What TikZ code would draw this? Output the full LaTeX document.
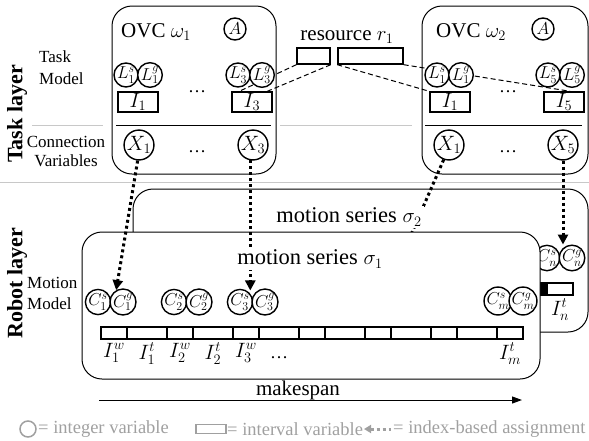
\documentclass[tikz,border=0pt]{standalone}
\usepackage{fontspec}
\setmainfont{Liberation Serif}
\usetikzlibrary{arrows.meta,backgrounds}
\newcommand{\fsz}[1]{\fontsize{#1}{#1}\selectfont}
\definecolor{lgray}{RGB}{200,200,200}
\definecolor{leggray}{RGB}{160,160,160}
\tikzset{
  ivar/.style={circle,draw,line width=1.4pt,fill=white,minimum size=24pt,inner sep=0pt,font=\fsz{18}},
  cvar/.style={ivar,minimum size=24.5pt},
  xvar/.style={ivar,minimum size=26pt,font=\fsz{20}},
  avar/.style={ivar,minimum size=22pt,font=\fsz{18}},
  ivl/.style={draw,line width=1.4pt,fill=white,minimum width=40pt,minimum height=20pt,inner sep=0pt,font=\fsz{21}},
  res/.style={draw,line width=1.4pt,minimum height=16pt,inner sep=0pt},
  seg/.style={draw,line width=2pt,fill=white,minimum height=11.5pt,inner sep=0pt},
  ovc/.style={draw,line width=1pt,rounded corners=20pt},
  series/.style={draw,line width=1pt,rounded corners=20pt,fill=white},
  assign/.style={line width=3pt,dash pattern=on 3pt off 3pt,-{Triangle[width=10pt,length=10pt]}},
  assignnt/.style={line width=3pt,dash pattern=on 3pt off 3pt},
  zoomline/.style={line width=1pt,dash pattern=on 5pt off 3pt},
  sepline/.style={lgray,line width=1pt},
  head/.style={font=\fsz{21},inner sep=0pt},
  serieslab/.style={font=\fsz{22.5},fill=white,inner sep=2pt},
  layer/.style={font=\fsz{22}\bfseries,rotate=90,inner sep=0pt},
  lab/.style={font=\fsz{21},inner sep=0pt},
  dotsn/.style={font=\fsz{18},inner sep=0pt,anchor=base},
  leg/.style={font=\fsz{18.5},text=leggray,inner sep=0pt,anchor=west},
}
\begin{document}
\begin{tikzpicture}[x=1pt,y=-1pt]
\useasboundingbox (0,0) rectangle (589,440);
% separators
\draw[sepline] (0,182) -- (589,182);
\draw[sepline] (32,125) -- (103,125);
\draw[sepline] (280,125) -- (412,125);
% layer labels
\node[layer] (tl) at (17,114) {Task layer};
\node[layer] (rl) at (17,283) {Robot layer};
\node[font=\fontsize{17}{22}\selectfont,align=left,inner sep=0pt,anchor=west] (tm) at (39,68) {Task\\Model};
\node[font=\fontsize{17}{19}\selectfont,align=center,inner sep=0pt] (cv) at (66,151) {Connection\\Variables};
\node[font=\fontsize{17}{21}\selectfont,align=left,inner sep=0pt,anchor=west] (mm) at (27,293) {Motion\\Model};
% OVC 1
\draw[ovc] (112,6) rectangle (276,174);
\node[head,anchor=base west] (ovc1) at (121,37) {OVC $\omega_1$};
\node[avar] (a1) at (235,29) {$A$};
\node[ivar] (l1s) at (126,75) {$L^s_1$};
\node[ivar] (l1g) at (150,75) {$L^g_1$};
\node[ivar] (l3s) at (238,75) {$L^s_3$};
\node[ivar] (l3g) at (262,75) {$L^g_3$};
\node[ivl] (i1a) at (138,102) {$I_1$};
\node[ivl] (i3a) at (252,102) {$I_3$};
\node[dotsn] (d1a) at (197,92) {\dots};
\draw[line width=1pt] (116,125) -- (271,125);
\node[xvar] (x1a) at (139,145) {$X_1$};
\node[xvar] (x3a) at (253,145) {$X_3$};
\node[dotsn] (d2a) at (197,152) {\dots};
% OVC 2
\draw[ovc] (422,6) rectangle (588,174);
\node[head,anchor=base west] (ovc2) at (436,37) {OVC $\omega_2$};
\node[avar] (a2) at (543,29) {$A$};
\node[ivar] (m1s) at (437,75) {$L^s_1$};
\node[ivar] (m1g) at (461,75) {$L^g_1$};
\node[ivar] (m5s) at (548,75) {$L^s_5$};
\node[ivar] (m5g) at (572,75) {$L^g_5$};
\node[ivl] (i1b) at (450,102) {$I_1$};
\node[ivl] (i5b) at (564,102) {$I_5$};
\node[dotsn] (d1b) at (508,92) {\dots};
\draw[line width=1pt] (425,125) -- (582,125);
\node[xvar] (x1b) at (449,145) {$X_1$};
\node[xvar] (x5b) at (563,145) {$X_5$};
\node[dotsn] (d2b) at (508,152) {\dots};
% resource
\node[head,anchor=base] (rtxt) at (347,40) {resource $r_1$};
\node[res,minimum width=33pt] (rs) at (313.5,56) {};
\node[res,minimum width=65pt] (rb) at (370.5,56) {};
\begin{scope}[on background layer]
\draw[zoomline] (rs.south west) -- (i3a.140);
\draw[zoomline] (rs.south east) -- (i3a.35);
\draw[zoomline] (rb.south west) -- (i1b.north west);
\draw[zoomline] (rb.south east) -- (i5b.60);
\end{scope}
% motion series 2
\draw[series] (133,189) rectangle (588,332);
\node[seg,minimum width=40pt,fill=black] (sp) at (527,289) {};
\node[seg,minimum width=26pt] (sn) at (560,289) {};
\node[lab,anchor=north] (lnt) at ([yshift=-3pt]sn.south) {$I^t_n$};
\node[cvar] (cns) at (547,258) {$C^s_n$};
\node[cvar] (cng) at (572,258) {$C^g_n$};
\coordinate (h2) at (387,290);
\draw[assignnt] (x1b.250) -- (h2);
\draw[assign] (x5b.south) -- (x5b.south |- cng.north);
\node[serieslab] (ms2) at (349,217) {motion series $\sigma_2$};
% motion series 1
\draw[series] (82,232) rectangle (540,379);
\node[cvar] (c1s) at (98,302) {$C^s_1$};
\node[cvar] (c1g) at (123,302) {$C^g_1$};
\node[cvar] (c2s) at (174,302) {$C^s_2$};
\node[cvar] (c2g) at (199,302) {$C^g_2$};
\node[cvar] (c3s) at (240,302) {$C^s_3$};
\node[cvar] (c3g) at (265,302) {$C^g_3$};
\node[cvar] (cms) at (498,301) {$C^s_m$};
\node[cvar] (cmg) at (523,301) {$C^g_m$};
\foreach \i/\x/\w in {1/114/26, 2/147/40, 3/180/26, 4/213/40, 5/246/26, 6/279/40, 7/312/26, 8/345/40, 9/378/26, 10/411/40, 11/444/26, 12/477/40, 13/510/26}
  \node[seg,minimum width=\w pt] (s\i) at (\x,333) {};
\node[lab,anchor=north] (lw1) at ([yshift=-3pt]s1.south) {$I^w_1$};
\node[lab,anchor=north] (lt1) at ([yshift=-3pt]s2.south) {$I^t_1$};
\node[lab,anchor=north] (lw2) at ([yshift=-3pt]s3.south) {$I^w_2$};
\node[lab,anchor=north] (lt2) at ([yshift=-3pt]s4.south) {$I^t_2$};
\node[lab,anchor=north] (lw3) at ([yshift=-3pt]s5.south) {$I^w_3$};
\node[dotsn] (ld) at (279,358) {\dots};
\node[lab,anchor=north] (ltm) at ([yshift=-3pt]s13.south) {$I^t_m$};
\draw[assign] (x1a.265) -- (c1g.120);
\draw[assign] (x3a.260) -- (x3a.260 |- c3s.60);
\node[serieslab] (ms1) at (310,259) {motion series $\sigma_1$};
% makespan
\node[font=\fsz{21},inner sep=0pt,anchor=base] (mk) at (298,395) {makespan};
\coordinate (m0) at (99,400);
\coordinate (m1) at (522,400);
\draw[line width=1pt,-{Triangle[width=7pt,length=10pt]}] (m0) -- (m1);
% legend
\node[circle,draw=leggray,line width=1.5pt,minimum size=16pt,inner sep=0pt] (lc) at (28,429) {};
\node[leg] (lg1) at (38,429) {= integer variable};
\node[draw=leggray,line width=1.5pt,minimum width=30pt,minimum height=9pt,inner sep=0pt] (lr) at (211,429) {};
\node[leg] (lg2) at (227,429) {= interval variable};
\coordinate (la0) at (364,429);
\coordinate (la1) at (391,429);
\draw[leggray,line width=3pt,dash pattern=on 3pt off 3pt,{Triangle[width=8pt,length=7pt]}-] (la0) -- (la1);
\node[leg] (lg3) at (393,429) {= index-based assignment};
\end{tikzpicture}
\end{document}
